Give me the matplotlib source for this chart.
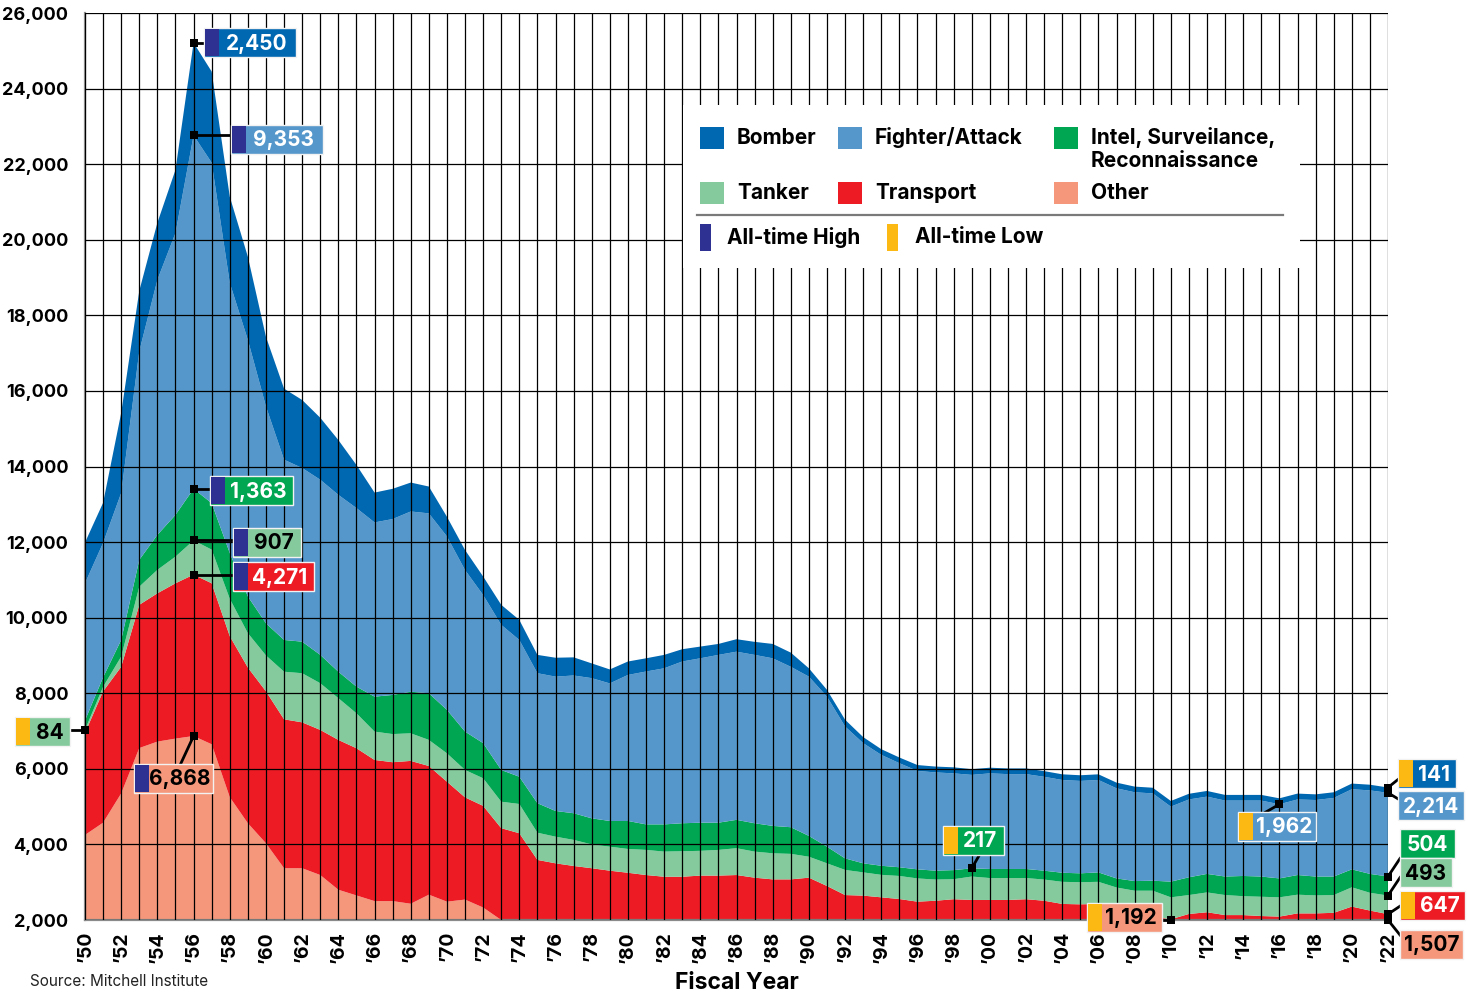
import matplotlib
matplotlib.use("Agg")
import numpy as np
import matplotlib.pyplot as plt
from matplotlib.patches import Rectangle
from matplotlib.lines import Line2D

plt.rcParams['font.family'] = ['Inter', 'DejaVu Sans']

# Fiscal years 1950-2022
years = list(range(1950, 2023))

# Active aircraft by mission (stacked bottom -> top)
other = [4250, 4575, 5350, 6550, 6720, 6800, 6868, 6650, 5250, 4560,
         4030, 3370, 3370, 3190, 2800, 2650, 2500, 2500, 2430, 2670,
         2485, 2540, 2330, 2000, 1900, 1850, 1800, 1780, 1760, 1740,
         1720, 1700, 1680, 1660, 1650, 1640, 1630, 1620, 1600, 1580,
         1560, 1520, 1480, 1450, 1420, 1400, 1380, 1360, 1350, 1340,
         1330, 1320, 1310, 1300, 1280, 1260, 1250, 1240, 1220, 1200,
         1192, 1250, 1300, 1320, 1340, 1360, 1380, 1400, 1420, 1450,
         1480, 1500, 1507]
transport = [2700, 3475, 3350, 3790, 3925, 4110, 4271, 4260, 4260, 4120,
             4020, 3940, 3860, 3840, 3965, 3895, 3735, 3675, 3780, 3405,
             3175, 2705, 2690, 2430, 2395, 1740, 1700, 1650, 1610, 1565,
             1530, 1490, 1465, 1485, 1525, 1535, 1560, 1500, 1475, 1495,
             1560, 1380, 1180, 1195, 1180, 1155, 1105, 1150, 1200, 1190,
             1200, 1210, 1240, 1210, 1145, 1155, 1175, 980, 910, 890,
             828, 910, 905, 810, 790, 745, 710, 775, 755, 740,
             875, 750, 647]
tanker = [84, 120, 270, 480, 620, 705, 907, 890, 990, 910,
          950, 1260, 1300, 1235, 1105, 925, 750, 745, 730, 690,
          750, 725, 730, 700, 775, 720, 705, 690, 630, 635,
          630, 665, 665, 675, 655, 680, 710, 690, 690, 675,
          555, 600, 665, 615, 595, 610, 615, 560, 530, 620,
          580, 580, 560, 560, 585, 585, 585, 640, 645, 685,
          580, 500, 525, 530, 500, 510, 510, 495, 475, 470,
          510, 470, 493]
isr = [246, 250, 440, 710, 925, 1105, 1363, 1230, 1210, 970,
       850, 840, 835, 750, 700, 705, 925, 1035, 1100, 1235,
       1150, 1015, 930, 840, 720, 780, 680, 705, 690, 680,
       740, 675, 720, 740, 745, 720, 750, 750, 725, 705,
       550, 440, 305, 240, 240, 230, 240, 235, 240, 217,
       240, 240, 240, 235, 240, 235, 250, 240, 255, 265,
       415, 470, 490, 490, 535, 535, 500, 520, 500, 490,
       475, 500, 504]
fighter = [3630, 3560, 3890, 5520, 6750, 7460, 9353, 9010, 7150, 6790,
           5740, 4770, 4595, 4635, 4680, 4725, 4610, 4655, 4770, 4760,
           4590, 4275, 3920, 3840, 3620, 3440, 3555, 3645, 3710, 3640,
           3865, 4045, 4130, 4280, 4350, 4440, 4450, 4455, 4435, 4245,
           4215, 3970, 3490, 3180, 2935, 2755, 2605, 2600, 2560, 2473,
           2530, 2510, 2510, 2485, 2455, 2445, 2445, 2385, 2350, 2310,
           1985, 2060, 2045, 2010, 1995, 2010, 1962, 2000, 2025, 2080,
           2120, 2210, 2214]
bomber = [1080, 1060, 2120, 1600, 1510, 1670, 2450, 2410, 2280, 2200,
          1840, 1880, 1800, 1640, 1450, 1140, 790, 800, 765, 710,
          520, 530, 490, 530, 530, 485, 500, 480, 390, 370,
          355, 350, 355, 325, 310, 290, 330, 345, 380, 375,
          220, 180, 180, 160, 150, 150, 155, 155, 160, 150,
          150, 150, 150, 150, 150, 150, 150, 150, 150, 150,
          150, 150, 150, 150, 150, 150, 158, 155, 150, 150,
          150, 150, 141]

C_BOMBER = '#0067b1'
C_FIGHTER = '#5597cb'
C_ISR = '#00a651'
C_TANKER = '#84ca9c'
C_TRANSPORT = '#ed1c24'
C_OTHER = '#f5977b'
C_HIGH = '#2e3192'
C_LOW = '#fdb913'

layers = [other, transport, tanker, isr, fighter, bomber]
layer_colors = [C_OTHER, C_TRANSPORT, C_TANKER, C_ISR, C_FIGHTER, C_BOMBER]
cum = np.cumsum(np.array(layers), axis=0)

W, H = 1468, 996
fig = plt.figure(figsize=(W / 100, H / 100), dpi=100)
ax = fig.add_axes([85 / W, 1 - 920 / H, (1388 - 85) / W, (920 - 13) / H])

ax.stackplot(years, *layers, colors=layer_colors, linewidth=0)
ax.set_xlim(1950, 2022)
ax.set_ylim(2000, 26000)

ax.set_xticks(range(1950, 2023, 2))
ax.set_xticks(range(1950, 2023), minor=True)
ax.set_xticklabels(["\u2019%02d" % (y % 100) for y in range(1950, 2023, 2)],
                   rotation=90, fontweight='bold', fontsize=14)
yt = list(range(2000, 26001, 2000))
ax.set_yticks(yt)
ax.set_yticklabels(["{:,}".format(v) for v in yt], fontweight='bold', fontsize=13)
ax.tick_params(which='both', length=0)
ax.tick_params(axis='y', pad=12)
ax.tick_params(axis='x', pad=8)
ax.grid(True, which='both', color='black', linewidth=0.9)
ax.set_axisbelow(False)
for side in ['top', 'right']:
    ax.spines[side].set_visible(False)
for side in ['left', 'bottom']:
    ax.spines[side].set_color('#8a8a8a')
    ax.spines[side].set_linewidth(1.6)

ax.set_xlabel('Fiscal Year', fontweight='bold', fontsize=16.5, labelpad=6)
fig.text(30 / W, 1 - 981 / H, 'Source: Mitchell Institute', fontsize=11,
         color='#222222', va='center')


# helpers working in image pixels (origin top-left)
def fig_rect(x, y, w, h, **kw):
    r = Rectangle((x / W, 1 - (y + h) / H), w / W, h / H,
                  transform=fig.transFigure, **kw)
    fig.add_artist(r)
    return r


def fig_text(x, y, s, **kw):
    return fig.text(x / W, 1 - y / H, s, **kw)


def fig_line(xs, ys, **kw):
    fig.add_artist(Line2D([x / W for x in xs], [1 - y / H for y in ys],
                          transform=fig.transFigure, **kw))


# legend panel
fig_rect(683, 105, 617, 163, facecolor='white', edgecolor='none', zorder=5)
leg_font = dict(fontsize=15, fontweight='bold', va='center', zorder=8)
legend_items = [
    (700, 127, C_BOMBER, 'Bomber'),
    (838, 127, C_FIGHTER, 'Fighter/Attack'),
    (1054, 127, C_ISR, 'Intel, Surveilance,'),
    (700, 182, C_TANKER, 'Tanker'),
    (838, 182, C_TRANSPORT, 'Transport'),
    (1054, 182, C_OTHER, 'Other'),
]
for lx, ly, lc, lt in legend_items:
    fig_rect(lx, ly, 24, 22, facecolor=lc, edgecolor='none', zorder=6)
    fig_text(lx + 37, ly + 11, lt, **leg_font)
fig_text(1091, 161, 'Reconnaissance', **leg_font)
fig_line([697, 1283], [215, 215], color='#7a7a7a', linewidth=1.6, zorder=6)
fig_rect(700, 224, 11, 27, facecolor=C_HIGH, edgecolor='none', zorder=6)
fig_text(727, 237, 'All-time High', **leg_font)
fig_rect(887, 224, 11, 27, facecolor=C_LOW, edgecolor='none', zorder=6)
fig_text(915, 237, 'All-time Low', **leg_font)

# value callouts: (year, layer, text, text colour, tab, box dx, box dy, width, line end dx, dy)
callouts = [
    (1956, 5, '2,450', 'white', C_HIGH, 10, 0, 92, 10, 0),
    (1956, 4, '9,353', 'white', C_HIGH, 37, 4, 92, 37, 0),
    (1956, 3, '1,363', 'white', C_HIGH, 16, 2, 83, 16, 0),
    (1956, 2, '907', 'black', C_HIGH, 39, 2, 68, 39, 0),
    (1956, 1, '4,271', 'white', C_HIGH, 39, 2, 81, 39, 0),
    (1950, 2, '84', 'black', C_LOW, -70, 2, 55, -15, 0),
    (1956, 0, '6,868', 'black', C_HIGH, -60, 42, 79, -13, 28),
    (1999, 3, '217', 'white', C_LOW, -29, -28, 61, 8, -14),
    (2010, 0, '1,192', 'black', C_LOW, -84, -3, 75, -9, 0),
    (2016, 4, '1,962', 'white', C_LOW, -41, 22, 78, -14, 8),
    (2022, 5, '141', 'white', C_LOW, 10, -14, 58, 10, -8),
    (2022, 4, '2,214', 'white', None, 10, 13, 66, 10, 6),
    (2022, 3, '504', 'white', None, 12, -33, 55, 12, -18),
    (2022, 2, '493', 'black', None, 12, -23, 52, 12, -18),
    (2022, 1, '647', 'white', C_LOW, 12, -9, 65, 12, -8),
    (2022, 0, '1,507', 'black', None, 12, 24, 63, 12, 15),
]
box_h = 29
tab_w = 14
for yr, li, txt, tc, tab, bdx, bdy, bw, ldx, ldy in callouts:
    val = max(cum[li][years.index(yr)], 2000)
    dx, dy = ax.transData.transform((yr, val))
    mx, my = dx, H - dy
    bx, by = mx + bdx, my + bdy - box_h / 2
    fig_line([mx, mx + ldx], [my, my + ldy], color='black', linewidth=2, zorder=6)
    fig_rect(bx, by, bw, box_h, facecolor=layer_colors[li], edgecolor='#f2f2f2',
             linewidth=1, zorder=7)
    tx0 = bx
    if tab is not None:
        fig_rect(bx + 1, by + 1, tab_w, box_h - 2, facecolor=tab, edgecolor='none',
                 zorder=8)
        tx0 = bx + tab_w
    fig_text((tx0 + bx + bw) / 2, by + box_h / 2 + 1, txt, color=tc, fontsize=15,
             fontweight='bold', ha='center', va='center', zorder=9)
    fig_rect(mx - 4, my - 4, 8, 8, facecolor='black', edgecolor='none', zorder=9)

fig.savefig('out.png', dpi=100)
